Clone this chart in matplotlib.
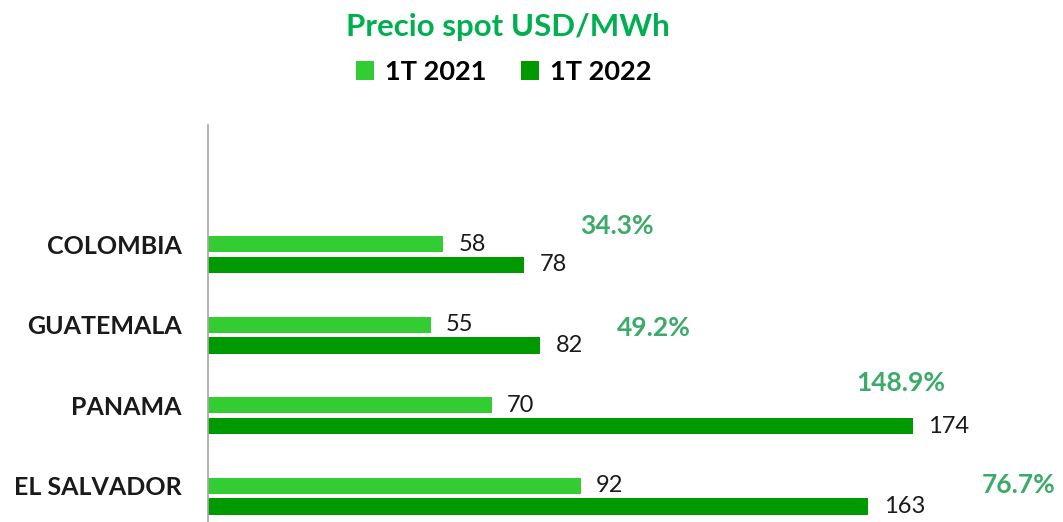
import matplotlib.pyplot as plt
import numpy as np

# data
countries = ['COLOMBIA', 'GUATEMALA', 'PANAMA', 'EL SALVADOR']
q1_2021 = [58, 55, 70, 92]
q1_2022 = [78, 82, 174, 163]
changes = ['34.3%', '49.2%', '148.9%', '76.7%']

# where the % labels sit (x in data units, y offset from group centre)
chg_x = [101, 110, 171, 200]
chg_dy = [-0.36, -0.09, -0.40, -0.14]

light = '#33cc33'
dark = '#009900'
pct_color = '#3daa6a'

plt.rcParams['font.family'] = ['Lato', 'DejaVu Sans']

fig = plt.figure(figsize=(10.63, 5.22), dpi=100)
ax = fig.add_axes([208 / 1063, 0, 855 / 1063, 397 / 522])

y = np.arange(len(countries))
h = 0.2
off = 0.128

b1 = ax.barh(y - off, q1_2021, height=h, color=light, label='1T 2021')
b2 = ax.barh(y + off, q1_2022, height=h, color=dark, label='1T 2022')

ax.bar_label(b1, padding=11, fontsize=17, color='#1a1a1a')
ax.bar_label(b2, padding=11, fontsize=17, color='#1a1a1a')

for i, txt in enumerate(changes):
    ax.text(chg_x[i], y[i] + chg_dy[i], txt, ha='center', va='center',
            fontsize=19, fontweight='bold', color=pct_color)

ax.set_xlim(0, 211)
ax.set_ylim(3.32, -1.61)
# category names sit level with the first bar of each group
ax.set_yticks(y - off)
ax.set_yticklabels(countries, fontsize=18, fontweight='bold', color='#1a1a1a')
ax.tick_params(axis='y', length=0, pad=19)
ax.set_xticks([])

for s in ['top', 'right', 'bottom']:
    ax.spines[s].set_visible(False)
ax.spines['left'].set_color('#a6a6a6')
ax.spines['left'].set_linewidth(1.2)

fig.text(0.478, 0.948, 'Precio spot USD/MWh', ha='center', va='center',
         fontsize=22.5, fontweight='bold', color='#00b050')

fig.legend(handles=[b1, b2], loc='center', bbox_to_anchor=(0.474, 0.862),
           ncol=2, frameon=False, prop={'size': 19.5, 'weight': 'bold'},
           handlelength=0.65, handleheight=0.65, handletextpad=0.4, columnspacing=1.3)

fig.savefig('out.png', dpi=100)
